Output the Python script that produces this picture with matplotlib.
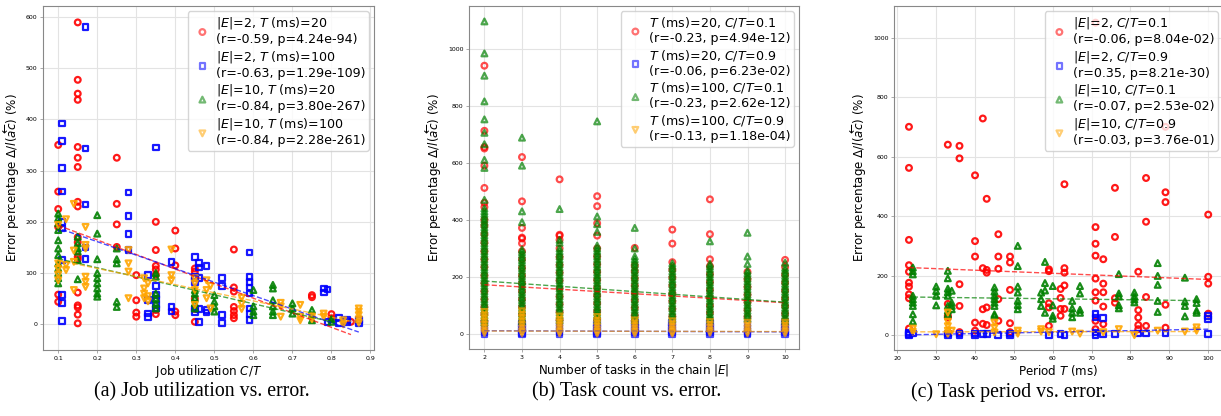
import matplotlib
matplotlib.use("Agg")
import matplotlib.pyplot as plt
import numpy as np

# ---------------- (a) job utilization C/T vs error ----------------
# utilization -> error values (%)
util_e2_t20 = {0.10: [350, 259, 225, 190, 58, 44], 0.15: [589, 477, 450, 438, 346, 325, 307, 239, 230, 170, 160, 132, 127, 62, 37, 33, 19, 2],
               0.25: [325, 235, 195, 151], 0.30: [96, 47, 23, 15], 0.35: [200, 145, 114, 107, 97, 28, 20],
               0.40: [183, 148, 115, 25, 18], 0.45: [109, 103, 90, 50, 30, 5], 0.55: [146, 72, 64, 34, 26, 18, 12],
               0.75: [57, 53], 0.80: [20, 12], 0.85: [5]}
util_e2_t100 = {0.11: [392, 357, 305, 259, 200, 187, 125, 57, 42, 7], 0.17: [580, 343, 234, 150, 127],
                0.28: [257, 212, 176, 145], 0.33: [96, 47, 21, 15], 0.35: [345, 75, 57, 49, 38, 31],
                0.39: [122, 34, 25], 0.45: [131, 93, 83, 31, 23], 0.46: [119, 111, 90, 30, 5], 0.48: [114, 28, 23],
                0.52: [91, 75, 18, 3], 0.59: [140, 93, 83, 72, 60, 31, 20, 8], 0.78: [70, 62], 0.79: [68, 5],
                0.82: [12, 2], 0.84: [8, 4], 0.87: [8, 2]}
util_e10_t20 = {0.10: [216, 207, 197, 184, 164, 148, 135, 119, 109, 100, 90, 80], 0.15: [171, 158, 148, 142, 125, 88],
                0.20: [213, 177, 127, 100, 90, 80, 70, 60, 54], 0.25: [148, 127, 119, 44, 34],
                0.35: [100, 93, 60, 50, 40, 31], 0.45: [67, 60, 51, 41, 31], 0.50: [57, 44, 35, 25],
                0.60: [67, 35, 25, 18], 0.65: [77, 70, 47, 35, 25, 18], 0.70: [41, 31, 21],
                0.75: [28, 18, 8], 0.80: [10, 5]}
util_e10_t100 = {0.10: [194, 119, 108, 97, 86], 0.12: [205, 116, 106], 0.14: [235, 144, 122, 67],
                 0.17: [190, 155, 148, 93, 83, 73], 0.28: [145, 119, 103, 51], 0.32: [90, 70, 60, 51],
                 0.33: [80, 55, 45], 0.39: [146, 96, 86], 0.45: [90, 80, 67, 38], 0.48: [86, 67, 51],
                 0.49: [75, 31], 0.57: [52, 40, 30], 0.67: [42, 35, 15], 0.72: [38, 15, 8],
                 0.75: [15, 10], 0.78: [21, 15], 0.83: [8, 0], 0.87: [31, 25, 18, 10, 3]}
# fitted trend, value at first and last utilization
util_fits = [(193, -20), (185, -15), (128, 5), (125, 3)]
util_labels = ["$|E|$=2, $T$ (ms)=20\n(r=-0.59, p=4.24e-94)",
               "$|E|$=2, $T$ (ms)=100\n(r=-0.63, p=1.29e-109)",
               "$|E|$=10, $T$ (ms)=20\n(r=-0.84, p=3.80e-267)",
               "$|E|$=10, $T$ (ms)=100\n(r=-0.84, p=2.28e-261)"]

# ---------------- (b) number of tasks vs error ----------------
tasks_t20_u01 = {2: [940, 712, 655, 650, 590, 512, 460, 445, 400, 380, 350, 320, 290, 262, 235, 205, 178, 150, 122, 95, 70, 45],
                 3: [620, 465, 372, 338, 335, 318, 290, 262, 232, 205, 178, 150, 122, 95, 68, 42],
                 4: [542, 348, 345, 330, 300, 270, 242, 215, 188, 160, 132, 105, 78, 50],
                 5: [483, 448, 388, 345, 300, 272, 245, 218, 190, 162, 135, 108, 80, 52],
                 6: [302, 240, 220, 195, 170, 145, 118, 92, 65, 45],
                 7: [366, 317, 252, 225, 198, 170, 142, 115, 88, 62],
                 8: [472, 350, 262, 238, 210, 182, 155, 128, 100, 75, 50],
                 9: [218, 192, 165, 138, 112, 85, 60],
                 10: [260, 235, 208, 180, 152, 125, 98, 72, 48]}
tasks_t20_u09 = {2: [38, 25, 14, 6, 0], 3: [36, 24, 13, 5, 0], 4: [38, 25, 14, 6, 0], 5: [35, 22, 12, 5, 0],
                 6: [38, 25, 14, 6, 0], 7: [40, 26, 14, 6, 0], 8: [38, 25, 14, 6, 0], 9: [35, 22, 12, 5, 0],
                 10: [40, 26, 14, 6, 0]}
tasks_t100_u01 = {2: [1095, 983, 905, 815, 752, 705, 665, 610, 582, 470, 440, 430, 421, 412, 402, 393, 384, 374, 365, 356,
                      346, 337, 328, 318, 309, 300, 290, 281, 272, 262, 253, 244, 234, 225, 216, 206, 197, 188, 178, 169,
                      160, 150, 141, 132, 122, 113, 104, 94, 85, 76, 66, 57, 48, 40],
                  3: [688, 590, 430, 392, 296, 287, 278, 268, 259, 250, 240, 231, 222, 212, 203, 194, 184, 175, 166, 156,
                      147, 138, 128, 119, 110, 100, 91, 82, 72, 63, 54, 45],
                  4: [438, 330, 320, 300, 290, 281, 272, 262, 253, 244, 234, 225, 216, 206, 197, 188, 178, 169, 160, 150,
                      141, 132, 122, 113, 104, 94, 85, 76, 66, 57, 48],
                  5: [745, 412, 385, 358, 310, 300, 291, 282, 272, 263, 254, 244, 235, 226, 216, 207, 198, 188, 179, 170,
                      160, 151, 142, 132, 123, 114, 104, 95, 86, 76, 67, 58, 48],
                  6: [372, 300, 272, 262, 253, 244, 234, 225, 216, 206, 197, 188, 178, 169, 160, 150, 141, 132, 122, 113,
                      104, 94, 85, 76, 66, 57, 48],
                  7: [248, 239, 230, 220, 211, 202, 192, 183, 174, 164, 155, 146, 136, 127, 118, 108, 99, 90, 80, 71, 62, 52],
                  8: [325, 246, 237, 228, 218, 209, 200, 190, 181, 172, 162, 153, 144, 134, 125, 116, 106, 97, 88, 78, 69, 60, 50],
                  9: [355, 272, 246, 222, 213, 204, 194, 185, 176, 166, 157, 148, 138, 129, 120, 110, 101, 92, 82, 73, 64, 54],
                  10: [250, 232, 223, 214, 204, 195, 186, 176, 167, 158, 148, 139, 130, 120, 111, 102, 92, 83, 74, 64, 55, 46]}
tasks_t100_u09 = {2: [78, 66, 55, 44, 33, 22, 12, 4], 3: [80, 68, 56, 44, 32, 20, 10, 3], 4: [62, 50, 40, 30, 20, 10, 3],
                  5: [60, 46, 36, 26, 16, 8, 2], 6: [48, 38, 28, 18, 9, 2], 7: [45, 35, 25, 15, 7, 2],
                  8: [42, 32, 22, 12, 5], 9: [40, 30, 20, 10, 3], 10: [40, 30, 20, 10, 3]}
tasks_fits = [(173, 110), (12, 8), (186, 112), (11, 9)]
tasks_labels = ["$T$ (ms)=20, $C/T$=0.1\n(r=-0.23, p=4.94e-12)",
                "$T$ (ms)=20, $C/T$=0.9\n(r=-0.06, p=6.23e-02)",
                "$T$ (ms)=100, $C/T$=0.1\n(r=-0.23, p=2.62e-12)",
                "$T$ (ms)=100, $C/T$=0.9\n(r=-0.13, p=1.18e-04)"]

# ---------------- (c) period vs error ----------------
period_e2_u01 = {23: [700, 562, 320, 235, 213, 176, 163, 137, 124, 22], 33: [640, 105, 65, 59], 36: [636, 594, 171, 98, 10],
                 40: [537, 316, 264, 42, 15], 42: [728, 225, 87, 38], 43: [458, 219, 210, 93, 34],
                 46: [339, 264, 223, 121, 48], 49: [264, 244, 152, 40, 10], 59: [221, 215, 107, 93, 31],
                 62: [155, 125, 88, 65], 63: [507, 225, 210, 167, 88], 71: [1050, 363, 307, 267, 190, 144, 116, 48, 20],
                 73: [255, 173, 144, 96, 37], 76: [495, 330, 124, 109], 82: [213, 84, 59, 34, 20],
                 84: [528, 381, 128, 31], 89: [700, 480, 447, 102, 25], 100: [405, 196, 173, 72]}
period_e2_u09 = {23: [9, 4, 0], 24: [5], 33: [5, 0], 36: [5, 0], 40: [5, 0], 42: [3], 43: [3], 46: [0], 49: [5, 0],
                 59: [0], 62: [3], 63: [0], 71: [70, 59, 9, 0], 73: [57, 4], 76: [3], 82: [5], 84: [5], 89: [5],
                 100: [65, 54, 3]}
period_e10_u01 = {24: [227, 215, 204, 132, 120, 109, 98, 70, 46], 30: [163, 148, 132, 100],
                  33: [216, 191, 156, 144, 132, 98, 82, 70], 34: [149, 109, 98, 87], 45: [160, 146, 132, 121, 109, 98, 70, 65],
                  51: [300, 232, 163, 143, 115, 101, 87], 57: [143, 121, 98], 58: [246, 175, 150, 75],
                  60: [165, 100, 65, 55], 65: [115, 90, 75, 60], 67: [165, 140, 85, 75], 77: [205, 140, 130, 100, 90],
                  81: [143, 130, 120, 110], 87: [242, 199, 169, 115, 78], 94: [193, 113, 98, 63], 97: [121, 108, 82, 75]}
period_e10_u09 = {24: [22, 11], 30: [3], 33: [76, 45, 30, 15, 5], 34: [15], 45: [42, 25, 9], 51: [15, 5], 57: [20, 12],
                  59: [10], 65: [12], 67: [5], 73: [10], 77: [20], 81: [0], 87: [15], 94: [12], 97: [26, 15]}
period_fits = [(227, 187), (1, 20), (128, 116), (11, 12)]
period_labels = ["$|E|$=2, $C/T$=0.1\n(r=-0.06, p=8.04e-02)",
                 "$|E|$=2, $C/T$=0.9\n(r=0.35, p=8.21e-30)",
                 "$|E|$=10, $C/T$=0.1\n(r=-0.07, p=2.53e-02)",
                 "$|E|$=10, $C/T$=0.9\n(r=-0.03, p=3.76e-01)"]

colors = ["red", "blue", "green", "orange"]
markers = ["o", "s", "^", "v"]


def expand(d):
    xs, ys = [], []
    for k, vals in d.items():
        xs += [k] * len(vals)
        ys += vals
    return np.array(xs, float), np.array(ys, float)


def panel(ax, series, fits, labels, alpha):
    for d, fit, lab, c, m in zip(series, fits, labels, colors, markers):
        x, y = expand(d)
        ax.scatter(x, y, s=17, marker=m, facecolors="none", edgecolors=c,
                   linewidths=1.6, alpha=alpha, label=lab, zorder=2)
        ax.plot([x.min(), x.max()], list(fit), "--", color=c, lw=1.0, alpha=0.7, zorder=3)
    ax.grid(True, color="#e3e3e3", lw=0.8, zorder=0)
    ax.set_axisbelow(True)
    for sp in ax.spines.values():
        sp.set_color("#888888")
    ax.tick_params(labelsize=4.5, length=2, width=0.5, color="#888888", pad=2)
    leg = ax.legend(loc="upper right", fontsize=9.1, handletextpad=0.2, borderpad=0.3,
                    labelspacing=0.22, handlelength=1.7, borderaxespad=0.4)
    for h in leg.legend_handles:
        h.set_alpha(0.55)
    ax.set_ylabel(r"Error percentage $\Delta/l(\overleftarrow{ac})$ (%)", fontsize=8.6, labelpad=3)


fig = plt.figure(figsize=(12.21, 4.16), dpi=100)
ax1 = fig.add_axes([43 / 1221, 1 - 350 / 416, 331 / 1221, 344 / 416])
ax2 = fig.add_axes([469 / 1221, 1 - 349 / 416, 330 / 1221, 343 / 416])
ax3 = fig.add_axes([894 / 1221, 1 - 350 / 416, 329 / 1221, 344 / 416])

panel(ax1, [util_e2_t20, util_e2_t100, util_e10_t20, util_e10_t100], util_fits, util_labels, 0.9)
ax1.set_xlim(0.061, 0.909)
ax1.set_ylim(-50, 621)
ax1.set_xticks(np.arange(1, 10) / 10)
ax1.set_yticks(np.arange(0, 700, 100))
ax1.set_xlabel("Job utilization $C/T$", fontsize=8.6, labelpad=2)

panel(ax2, [tasks_t20_u01, tasks_t20_u09, tasks_t100_u01, tasks_t100_u09], tasks_fits, tasks_labels, 0.7)
ax2.set_xlim(1.59, 10.37)
ax2.set_ylim(-52, 1149)
ax2.set_xticks(range(2, 11))
ax2.set_yticks(range(0, 1001, 200))
ax2.set_xlabel("Number of tasks in the chain $|E|$", fontsize=8.6, labelpad=2)

panel(ax3, [period_e2_u01, period_e2_u09, period_e10_u01, period_e10_u09], period_fits, period_labels, 0.9)
ax3.set_xlim(19.15, 103.8)
ax3.set_ylim(-50, 1106)
ax3.set_xticks(range(20, 101, 10))
ax3.set_yticks(range(0, 1001, 200))
ax3.set_xlabel("Period $T$ (ms)", fontsize=8.6, labelpad=2)

cap_y = 1 - 392 / 416
for cx, txt in [(202, "(a) Job utilization vs. error."), (627, "(b) Task count vs. error."),
                (1009, "(c) Task period vs. error.")]:
    fig.text(cx / 1221, cap_y, txt, ha="center", va="center", fontsize=14.3, family="Liberation Serif")

fig.savefig("out.png", dpi=100)
